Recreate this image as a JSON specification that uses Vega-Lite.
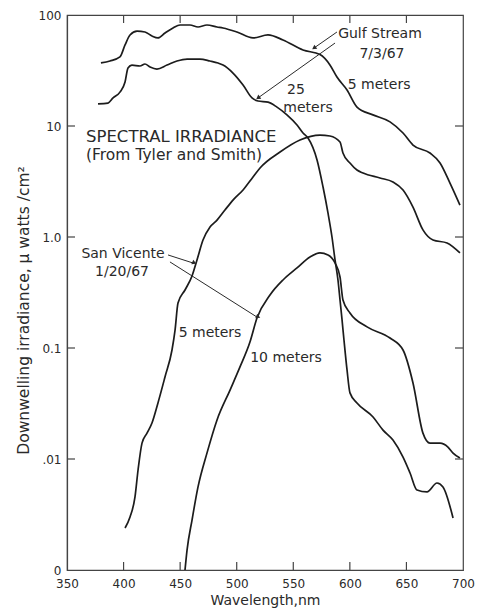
{
  "$schema": "https://vega.github.io/schema/vega-lite/v6.json",
  "autosize": "none",
  "width": 396,
  "height": 555,
  "padding": {"left": 67, "top": 15, "right": 16, "bottom": 39},
  "background": "white",
  "config": {
    "view": {"stroke": "#444", "strokeWidth": 1.2},
    "font": "DejaVu Sans",
    "axis": {
      "grid": false,
      "domainColor": "#444",
      "domainWidth": 1.2,
      "ticks": false,
      "labelColor": "#2a2a2a",
      "labelFont": "DejaVu Sans",
      "labelFontSize": 12,
      "titleColor": "#2a2a2a",
      "titleFont": "DejaVu Sans",
      "titleFontWeight": "normal",
      "titleFontSize": 14
    }
  },
  "datasets": {
    "curves": [
      {"series": "Gulf Stream 5 m", "wl": 380, "irr": 37.0},
      {"series": "Gulf Stream 5 m", "wl": 388, "irr": 38.5},
      {"series": "Gulf Stream 5 m", "wl": 396.8, "irr": 41.9},
      {"series": "Gulf Stream 5 m", "wl": 401.3, "irr": 53.7},
      {"series": "Gulf Stream 5 m", "wl": 405.7, "irr": 66.1},
      {"series": "Gulf Stream 5 m", "wl": 411.9, "irr": 71.7},
      {"series": "Gulf Stream 5 m", "wl": 418.9, "irr": 70.3},
      {"series": "Gulf Stream 5 m", "wl": 425.1, "irr": 64.7},
      {"series": "Gulf Stream 5 m", "wl": 430.4, "irr": 62.1},
      {"series": "Gulf Stream 5 m", "wl": 436.6, "irr": 68.8},
      {"series": "Gulf Stream 5 m", "wl": 443.7, "irr": 76.4},
      {"series": "Gulf Stream 5 m", "wl": 449.9, "irr": 81.3},
      {"series": "Gulf Stream 5 m", "wl": 458.7, "irr": 81.3},
      {"series": "Gulf Stream 5 m", "wl": 465.8, "irr": 78.0},
      {"series": "Gulf Stream 5 m", "wl": 473.7, "irr": 81.3},
      {"series": "Gulf Stream 5 m", "wl": 482.6, "irr": 78.0},
      {"series": "Gulf Stream 5 m", "wl": 487.9, "irr": 76.4},
      {"series": "Gulf Stream 5 m", "wl": 500.2, "irr": 70.3},
      {"series": "Gulf Stream 5 m", "wl": 514.4, "irr": 62.1},
      {"series": "Gulf Stream 5 m", "wl": 527.6, "irr": 66.1},
      {"series": "Gulf Stream 5 m", "wl": 540.9, "irr": 59.6},
      {"series": "Gulf Stream 5 m", "wl": 558.6, "irr": 48.4},
      {"series": "Gulf Stream 5 m", "wl": 573.6, "irr": 44.0},
      {"series": "Gulf Stream 5 m", "wl": 582.4, "irr": 35.5},
      {"series": "Gulf Stream 5 m", "wl": 588.6, "irr": 27.6},
      {"series": "Gulf Stream 5 m", "wl": 597.5, "irr": 21.1},
      {"series": "Gulf Stream 5 m", "wl": 606.3, "irr": 14.8},
      {"series": "Gulf Stream 5 m", "wl": 620.4, "irr": 12.6},
      {"series": "Gulf Stream 5 m", "wl": 635.5, "irr": 10.9},
      {"series": "Gulf Stream 5 m", "wl": 647.0, "irr": 8.65},
      {"series": "Gulf Stream 5 m", "wl": 655.8, "irr": 6.74},
      {"series": "Gulf Stream 5 m", "wl": 670.8, "irr": 5.71},
      {"series": "Gulf Stream 5 m", "wl": 679.7, "irr": 4.65},
      {"series": "Gulf Stream 5 m", "wl": 688.5, "irr": 3.06},
      {"series": "Gulf Stream 5 m", "wl": 697.3, "irr": 1.94},

      {"series": "Gulf Stream 25 m", "wl": 377.4, "irr": 15.8},
      {"series": "Gulf Stream 25 m", "wl": 386.2, "irr": 16.1},
      {"series": "Gulf Stream 25 m", "wl": 390.7, "irr": 17.9},
      {"series": "Gulf Stream 25 m", "wl": 396.8, "irr": 20.2},
      {"series": "Gulf Stream 25 m", "wl": 401.3, "irr": 24.9},
      {"series": "Gulf Stream 25 m", "wl": 403.9, "irr": 33.3},
      {"series": "Gulf Stream 25 m", "wl": 407.4, "irr": 35.4},
      {"series": "Gulf Stream 25 m", "wl": 414.5, "irr": 34.7},
      {"series": "Gulf Stream 25 m", "wl": 418.9, "irr": 36.2},
      {"series": "Gulf Stream 25 m", "wl": 423.4, "irr": 34.0},
      {"series": "Gulf Stream 25 m", "wl": 429.5, "irr": 32.6},
      {"series": "Gulf Stream 25 m", "wl": 438.4, "irr": 35.4},
      {"series": "Gulf Stream 25 m", "wl": 447.2, "irr": 38.5},
      {"series": "Gulf Stream 25 m", "wl": 456.1, "irr": 40.1},
      {"series": "Gulf Stream 25 m", "wl": 467.5, "irr": 40.1},
      {"series": "Gulf Stream 25 m", "wl": 476.4, "irr": 38.5},
      {"series": "Gulf Stream 25 m", "wl": 483.5, "irr": 36.9},
      {"series": "Gulf Stream 25 m", "wl": 487.9, "irr": 35.4},
      {"series": "Gulf Stream 25 m", "wl": 496.7, "irr": 30.0},
      {"series": "Gulf Stream 25 m", "wl": 505.6, "irr": 23.4},
      {"series": "Gulf Stream 25 m", "wl": 513.5, "irr": 17.9},
      {"series": "Gulf Stream 25 m", "wl": 518.8, "irr": 16.8},
      {"series": "Gulf Stream 25 m", "wl": 527.7, "irr": 16.4},
      {"series": "Gulf Stream 25 m", "wl": 535.6, "irr": 14.8},
      {"series": "Gulf Stream 25 m", "wl": 544.4, "irr": 12.6},
      {"series": "Gulf Stream 25 m", "wl": 553.3, "irr": 10.2},
      {"series": "Gulf Stream 25 m", "wl": 558.6, "irr": 8.65},
      {"series": "Gulf Stream 25 m", "wl": 563.0, "irr": 7.80},
      {"series": "Gulf Stream 25 m", "wl": 571.0, "irr": 4.94},
      {"series": "Gulf Stream 25 m", "wl": 576.3, "irr": 2.82},
      {"series": "Gulf Stream 25 m", "wl": 580.7, "irr": 1.64},
      {"series": "Gulf Stream 25 m", "wl": 584.2, "irr": 1.0},
      {"series": "Gulf Stream 25 m", "wl": 586.9, "irr": 0.621},
      {"series": "Gulf Stream 25 m", "wl": 589.5, "irr": 0.410},
      {"series": "Gulf Stream 25 m", "wl": 591.3, "irr": 0.271},
      {"series": "Gulf Stream 25 m", "wl": 593.1, "irr": 0.179},
      {"series": "Gulf Stream 25 m", "wl": 594.8, "irr": 0.118},
      {"series": "Gulf Stream 25 m", "wl": 597.5, "irr": 0.0634},
      {"series": "Gulf Stream 25 m", "wl": 600.1, "irr": 0.0394},
      {"series": "Gulf Stream 25 m", "wl": 606.3, "irr": 0.0320},
      {"series": "Gulf Stream 25 m", "wl": 620.5, "irr": 0.0239},
      {"series": "Gulf Stream 25 m", "wl": 629.3, "irr": 0.0182},
      {"series": "Gulf Stream 25 m", "wl": 638.1, "irr": 0.0148},
      {"series": "Gulf Stream 25 m", "wl": 647.0, "irr": 0.0104},
      {"series": "Gulf Stream 25 m", "wl": 653.2, "irr": 0.00748},
      {"series": "Gulf Stream 25 m", "wl": 659.3, "irr": 0.00526},
      {"series": "Gulf Stream 25 m", "wl": 668.2, "irr": 0.00505},
      {"series": "Gulf Stream 25 m", "wl": 677.0, "irr": 0.00608},
      {"series": "Gulf Stream 25 m", "wl": 682.3, "irr": 0.00560},
      {"series": "Gulf Stream 25 m", "wl": 691.2, "irr": 0.00294},

      {"series": "San Vicente 5 m", "wl": 401.3, "irr": 0.00239},
      {"series": "San Vicente 5 m", "wl": 405.7, "irr": 0.00300},
      {"series": "San Vicente 5 m", "wl": 410.1, "irr": 0.00455},
      {"series": "San Vicente 5 m", "wl": 412.8, "irr": 0.00796},
      {"series": "San Vicente 5 m", "wl": 416.3, "irr": 0.0139},
      {"series": "San Vicente 5 m", "wl": 420.7, "irr": 0.0171},
      {"series": "San Vicente 5 m", "wl": 425.1, "irr": 0.0211},
      {"series": "San Vicente 5 m", "wl": 430.4, "irr": 0.0320},
      {"series": "San Vicente 5 m", "wl": 436.6, "irr": 0.0548},
      {"series": "San Vicente 5 m", "wl": 442.8, "irr": 0.0959},
      {"series": "San Vicente 5 m", "wl": 445.5, "irr": 0.145},
      {"series": "San Vicente 5 m", "wl": 448.1, "irr": 0.254},
      {"series": "San Vicente 5 m", "wl": 454.3, "irr": 0.333},
      {"series": "San Vicente 5 m", "wl": 460.5, "irr": 0.446},
      {"series": "San Vicente 5 m", "wl": 464.9, "irr": 0.621},
      {"series": "San Vicente 5 m", "wl": 470.2, "irr": 0.940},
      {"series": "San Vicente 5 m", "wl": 476.4, "irr": 1.23},
      {"series": "San Vicente 5 m", "wl": 482.6, "irr": 1.42},
      {"series": "San Vicente 5 m", "wl": 489.6, "irr": 1.75},
      {"series": "San Vicente 5 m", "wl": 496.7, "irr": 2.15},
      {"series": "San Vicente 5 m", "wl": 505.6, "irr": 2.65},
      {"series": "San Vicente 5 m", "wl": 514.4, "irr": 3.47},
      {"series": "San Vicente 5 m", "wl": 520.6, "irr": 4.19},
      {"series": "San Vicente 5 m", "wl": 538.3, "irr": 5.83},
      {"series": "San Vicente 5 m", "wl": 555.9, "irr": 7.48},
      {"series": "San Vicente 5 m", "wl": 573.6, "irr": 8.29},
      {"series": "San Vicente 5 m", "wl": 582.4, "irr": 8.13},
      {"series": "San Vicente 5 m", "wl": 591.3, "irr": 7.17},
      {"series": "San Vicente 5 m", "wl": 593.9, "irr": 5.71},
      {"series": "San Vicente 5 m", "wl": 600.1, "irr": 4.64},
      {"series": "San Vicente 5 m", "wl": 606.3, "irr": 4.01},
      {"series": "San Vicente 5 m", "wl": 611.6, "irr": 3.77},
      {"series": "San Vicente 5 m", "wl": 626.6, "irr": 3.40},
      {"series": "San Vicente 5 m", "wl": 638.1, "irr": 3.13},
      {"series": "San Vicente 5 m", "wl": 647.0, "irr": 2.65},
      {"series": "San Vicente 5 m", "wl": 655.8, "irr": 1.86},
      {"series": "San Vicente 5 m", "wl": 664.6, "irr": 1.16},
      {"series": "San Vicente 5 m", "wl": 673.5, "irr": 0.940},
      {"series": "San Vicente 5 m", "wl": 685.9, "irr": 0.883},
      {"series": "San Vicente 5 m", "wl": 697.3, "irr": 0.718},

      {"series": "San Vicente 10 m", "wl": 454.3, "irr": 0.001},
      {"series": "San Vicente 10 m", "wl": 456.1, "irr": 0.00151},
      {"series": "San Vicente 10 m", "wl": 460.5, "irr": 0.00282},
      {"series": "San Vicente 10 m", "wl": 465.8, "irr": 0.00560},
      {"series": "San Vicente 10 m", "wl": 473.7, "irr": 0.0113},
      {"series": "San Vicente 10 m", "wl": 482.6, "irr": 0.0225},
      {"series": "San Vicente 10 m", "wl": 494.1, "irr": 0.0418},
      {"series": "San Vicente 10 m", "wl": 502.9, "irr": 0.0675},
      {"series": "San Vicente 10 m", "wl": 511.7, "irr": 0.113},
      {"series": "San Vicente 10 m", "wl": 517.9, "irr": 0.186},
      {"series": "San Vicente 10 m", "wl": 529.4, "irr": 0.300},
      {"series": "San Vicente 10 m", "wl": 540.9, "irr": 0.410},
      {"series": "San Vicente 10 m", "wl": 553.3, "irr": 0.526},
      {"series": "San Vicente 10 m", "wl": 564.8, "irr": 0.661},
      {"series": "San Vicente 10 m", "wl": 573.6, "irr": 0.718},
      {"series": "San Vicente 10 m", "wl": 580.7, "irr": 0.689},
      {"series": "San Vicente 10 m", "wl": 586.9, "irr": 0.583},
      {"series": "San Vicente 10 m", "wl": 591.3, "irr": 0.436},
      {"series": "San Vicente 10 m", "wl": 593.9, "irr": 0.271},
      {"series": "San Vicente 10 m", "wl": 600.1, "irr": 0.207},
      {"series": "San Vicente 10 m", "wl": 615.2, "irr": 0.155},
      {"series": "San Vicente 10 m", "wl": 635.5, "irr": 0.123},
      {"series": "San Vicente 10 m", "wl": 647.0, "irr": 0.0959},
      {"series": "San Vicente 10 m", "wl": 655.8, "irr": 0.0484},
      {"series": "San Vicente 10 m", "wl": 664.6, "irr": 0.0171},
      {"series": "San Vicente 10 m", "wl": 670.8, "irr": 0.0139},
      {"series": "San Vicente 10 m", "wl": 679.7, "irr": 0.0139},
      {"series": "San Vicente 10 m", "wl": 686.7, "irr": 0.0128},
      {"series": "San Vicente 10 m", "wl": 691.2, "irr": 0.0113},
      {"series": "San Vicente 10 m", "wl": 697.3, "irr": 0.0102}
    ],
    "headings": [
      {"text": "SPECTRAL  IRRADIANCE", "size": "large", "wl": 366.8, "irr": 8.04},
      {"text": "(From Tyler and Smith)", "size": "small", "wl": 366.8, "irr": 5.48}
    ],
    "labels": [
      {"text": "Gulf Stream", "wl": 626.6, "irr": 67.4},
      {"text": "7/3/67", "wl": 628.4, "irr": 44.5},
      {"text": "5 meters", "wl": 625.8, "irr": 23.4},
      {"text": "25", "wl": 552.4, "irr": 21.1},
      {"text": "meters", "wl": 563.0, "irr": 14.5},
      {"text": "San Vicente", "wl": 399.5, "irr": 0.703},
      {"text": "1/20/67", "wl": 398.6, "irr": 0.484},
      {"text": "5 meters", "wl": 476.4, "irr": 0.1365},
      {"text": "10 meters", "wl": 543.6, "irr": 0.0813}
    ],
    "arrows": [
      {"arrow": "Gulf Stream 5 m", "wl": 588.6, "irr": 70.3, "wl2": 568.3, "irr2": 50.4},
      {"arrow": "Gulf Stream 25 m", "wl": 586.9, "irr": 55.9, "wl2": 518.8, "irr2": 17.9},
      {"arrow": "San Vicente 5 m", "wl": 439.3, "irr": 0.689, "wl2": 461.4, "irr2": 0.583},
      {"arrow": "San Vicente 10 m", "wl": 441.0, "irr": 0.596, "wl2": 517.9, "irr2": 0.190}
    ],
    "wlTicks": [{"wl": 400}, {"wl": 450}, {"wl": 500}, {"wl": 550}, {"wl": 600}, {"wl": 650}],
    "irrTicks": [{"irr": 0.01}, {"irr": 0.1}, {"irr": 1}, {"irr": 10}]
  },
  "layer": [
    {
      "data": {"name": "curves"},
      "mark": {"type": "line", "interpolate": "monotone", "color": "#1c1c1c", "strokeWidth": 1.7},
      "encoding": {
        "x": {
          "field": "wl", "type": "quantitative",
          "scale": {"type": "linear", "domain": [350, 700], "nice": false, "zero": false},
          "axis": {
            "orient": "bottom",
            "values": [350, 400, 450, 500, 550, 600, 650, 700],
            "title": "Wavelength,nm",
            "titleY": 23,
            "titleBaseline": "top",
            "labelPadding": 8,
            "labelFlush": false
          }
        },
        "y": {
          "field": "irr", "type": "quantitative",
          "scale": {"type": "log", "domain": [0.001, 100], "nice": false},
          "axis": {
            "orient": "left",
            "values": [0.001, 0.01, 0.1, 1, 10, 100],
            "labelExpr": "datum.value > 50 ? '100' : datum.value > 5 ? '10' : datum.value > 0.5 ? '1.0' : datum.value > 0.05 ? '0.1' : datum.value > 0.005 ? '.01' : '0'",
            "title": "Downwelling irradiance, μ watts /cm²",
            "titleFontSize": 15.5,
            "titleX": -44,
            "titleY": 295,
            "titleBaseline": "middle",
            "labelPadding": 6,
            "labelFlush": false
          }
        },
        "detail": {"field": "series", "type": "nominal"}
      }
    },
    {
      "data": {"name": "wlTicks"},
      "mark": {"type": "rule", "color": "#444", "strokeWidth": 1.2},
      "encoding": {
        "x": {"field": "wl", "type": "quantitative"},
        "y": {"datum": 0.001},
        "y2": {"datum": 0.00118}
      }
    },
    {
      "data": {"name": "wlTicks"},
      "mark": {"type": "rule", "color": "#444", "strokeWidth": 1.2},
      "encoding": {
        "x": {"field": "wl", "type": "quantitative"},
        "y": {"datum": 84.7},
        "y2": {"datum": 100}
      }
    },
    {
      "data": {"name": "irrTicks"},
      "mark": {"type": "rule", "color": "#444", "strokeWidth": 1.2},
      "encoding": {
        "y": {"field": "irr", "type": "quantitative"},
        "x": {"datum": 350},
        "x2": {"datum": 357.1}
      }
    },
    {
      "data": {"name": "irrTicks"},
      "mark": {"type": "rule", "color": "#444", "strokeWidth": 1.2},
      "encoding": {
        "y": {"field": "irr", "type": "quantitative"},
        "x": {"datum": 692.9},
        "x2": {"datum": 700}
      }
    },
    {
      "data": {"name": "labels"},
      "mark": {"type": "text", "align": "center", "baseline": "middle", "fontSize": 14, "color": "#2a2a2a"},
      "encoding": {
        "x": {"field": "wl", "type": "quantitative"},
        "y": {"field": "irr", "type": "quantitative"},
        "text": {"field": "text", "type": "nominal"}
      }
    },
    {
      "data": {"name": "headings"},
      "mark": {"type": "text", "align": "left", "baseline": "middle", "color": "#2a2a2a"},
      "encoding": {
        "x": {"field": "wl", "type": "quantitative"},
        "y": {"field": "irr", "type": "quantitative"},
        "text": {"field": "text", "type": "nominal"},
        "size": {
          "field": "size", "type": "nominal",
          "scale": {"domain": ["large", "small"], "range": [16.5, 15.5]},
          "legend": null
        }
      }
    },
    {
      "data": {"name": "arrows"},
      "mark": {"type": "rule", "color": "#2a2a2a", "strokeWidth": 1},
      "encoding": {
        "x": {"field": "wl", "type": "quantitative"},
        "y": {"field": "irr", "type": "quantitative"},
        "x2": {"field": "wl2"},
        "y2": {"field": "irr2"}
      }
    },
    {
      "data": {"name": "arrows"},
      "mark": {"type": "point", "shape": "triangle-right", "filled": true, "size": 26, "color": "#2a2a2a", "opacity": 1},
      "encoding": {
        "x": {"field": "wl2", "type": "quantitative"},
        "y": {"field": "irr2", "type": "quantitative"},
        "angle": {
          "field": "arrow", "type": "nominal",
          "scale": {"domain": ["Gulf Stream 5 m", "Gulf Stream 25 m", "San Vicente 5 m", "San Vicente 10 m"], "range": [145, 144, 18, 32]},
          "legend": null
        }
      }
    }
  ]
}
